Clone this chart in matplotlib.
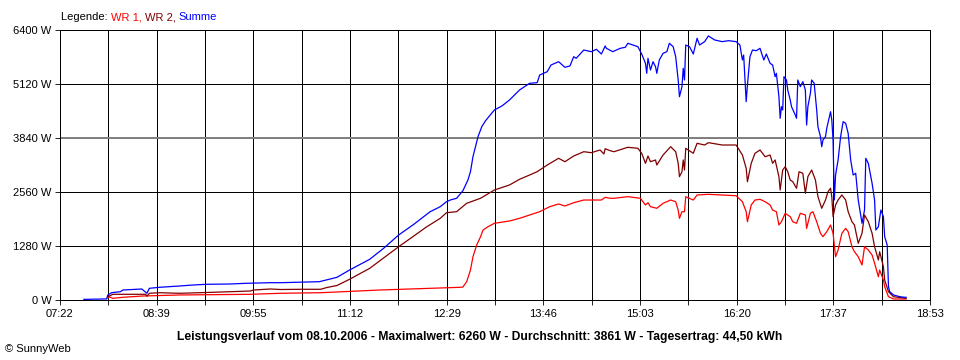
import numpy as np
import matplotlib
matplotlib.use('Agg')
from matplotlib import pyplot as plt

plt.rcParams['font.family'] = ['Liberation Sans', 'DejaVu Sans']

# --- data (time of day, watts) ---
summe_t = ["07:41", "07:50", "07:59", "08:00", "08:03", "08:10", "08:12", "08:22", "08:27", "08:31",
           "08:33", "08:41", "08:57", "09:08", "09:18", "09:37", "09:50", "10:09", "10:17", "10:48",
           "11:02", "11:12", "11:28", "11:39", "11:51", "12:03", "12:16", "12:24", "12:29", "12:32",
           "12:37", "12:42", "12:46", "12:48", "12:50", "12:54", "12:57", "13:00", "13:07", "13:13",
           "13:19", "13:27", "13:35", "13:41", "13:43", "13:49", "13:52", "13:58", "14:03", "14:07",
           "14:10", "14:12", "14:18", "14:24", "14:28", "14:32", "14:35", "14:36", "14:41", "14:47",
           "14:51", "14:53", "14:57", "15:01", "15:04", "15:07", "15:08", "15:09", "15:11", "15:13",
           "15:15", "15:16", "15:18", "15:21", "15:24", "15:26", "15:29", "15:31", "15:33", "15:34",
           "15:36", "15:37", "15:38", "15:39", "15:42", "15:45", "15:48", "15:50", "15:54", "15:57",
           "16:02", "16:08", "16:13", "16:19", "16:22", "16:24", "16:25", "16:27", "16:28", "16:30",
           "16:31", "16:32", "16:35", "16:38", "16:41", "16:43", "16:46", "16:48", "16:50", "16:51",
           "16:53", "16:54", "16:55", "16:56", "16:57", "16:59", "17:00", "17:02", "17:03", "17:06",
           "17:07", "17:08", "17:10", "17:12", "17:14", "17:15", "17:16", "17:18", "17:19", "17:21",
           "17:23", "17:24", "17:26", "17:27", "17:28", "17:30", "17:31", "17:34", "17:35", "17:36",
           "17:37", "17:38", "17:40", "17:42", "17:44", "17:46", "17:48", "17:50", "17:52", "17:54",
           "17:56", "17:59", "18:01", "18:02", "18:04", "18:07", "18:09", "18:10", "18:12", "18:14",
           "18:16", "18:17", "18:19", "18:20", "18:21", "18:24", "18:29", "18:33", "18:34"]
summe_w = [15, 20, 25, 120, 173, 197, 237, 254, 261, 159,
           277, 301, 332, 356, 372, 379, 396, 410, 410, 434,
           538, 711, 965, 1225, 1541, 1794, 2093, 2212, 2330, 2370,
           2411, 2590, 2844, 3041, 3397, 3871, 4108, 4250, 4504, 4599,
           4741, 4978, 5137, 5151, 5333, 5412, 5570, 5649, 5516, 5547,
           5767, 5729, 5926, 5886, 5943, 5831, 6021, 5966, 5886, 5966,
           5990, 6085, 6044, 6004, 5831, 5611, 5373, 5729, 5452, 5649,
           5531, 5373, 5689, 5848, 5886, 6085, 6004, 5767, 5215, 4819,
           5056, 5492, 5215, 6044, 6004, 5831, 6203, 6044, 6124, 6260,
           6163, 6124, 6147, 6124, 6044, 5689, 5807, 4701, 5096, 5767,
           5848, 5926, 5909, 5966, 5689, 5831, 5611, 5570, 5293, 5373,
           4819, 4307, 4582, 4504, 5293, 5215, 4978, 4741, 4582, 4385,
           4307, 5215, 5056, 5175, 4978, 4148, 4582, 4900, 5215, 5137,
           4504, 4108, 3871, 3634, 3793, 3871, 4070, 4463, 4267, 3793,
           2370, 2963, 3319, 3871, 4227, 4188, 3951, 3319, 2963, 3003,
           2370, 1818, 2133, 3359, 3240, 2766, 2370, 1659, 1738, 2133,
           1975, 1500, 1304, 315, 197, 119, 78, 64, 64]

wr2_t = ["08:00", "08:04", "08:12", "08:30", "08:31", "08:33", "08:41", "08:57", "09:24", "09:53",
         "09:56", "10:09", "10:17", "10:35", "10:49", "10:54", "11:02", "11:12", "11:28", "11:51",
         "12:03", "12:13", "12:24", "12:29", "12:37", "12:45", "12:56", "13:07", "13:19", "13:27",
         "13:35", "13:41", "13:49", "13:58", "14:03", "14:10", "14:18", "14:24", "14:31", "14:34",
         "14:35", "14:39", "14:42", "14:53", "15:01", "15:04", "15:07", "15:09", "15:11", "15:15",
         "15:16", "15:21", "15:27", "15:31", "15:33", "15:34", "15:36", "15:37", "15:38", "15:39",
         "15:45", "15:48", "15:54", "15:57", "16:08", "16:19", "16:24", "16:27", "16:28", "16:31",
         "16:34", "16:38", "16:42", "16:46", "16:48", "16:50", "16:53", "16:54", "16:56", "16:58",
         "17:00", "17:02", "17:04", "17:07", "17:09", "17:12", "17:14", "17:16", "17:19", "17:22",
         "17:24", "17:27", "17:30", "17:32", "17:34", "17:35", "17:36", "17:38", "17:40", "17:43",
         "17:46", "17:48", "17:51", "17:53", "17:56", "17:59", "18:01", "18:04", "18:07", "18:09",
         "18:12", "18:13", "18:16", "18:17", "18:20", "18:24", "18:34"]
wr2_w = [78, 135, 135, 135, 90, 159, 173, 159, 183, 213,
         237, 261, 249, 254, 254, 296, 344, 491, 751, 1263,
         1517, 1730, 1936, 2069, 2093, 2292, 2411, 2607, 2726, 2861,
         2963, 3041, 3200, 3359, 3278, 3413, 3515, 3492, 3556, 3461,
         3586, 3539, 3515, 3620, 3596, 3477, 3240, 3413, 3278, 3319,
         3200, 3437, 3634, 3515, 3240, 2923, 3041, 3319, 3081, 3596,
         3477, 3714, 3674, 3729, 3674, 3674, 3437, 3122, 2804, 3240,
         3477, 3556, 3397, 3437, 3240, 3319, 2923, 2607, 3081, 3160,
         3041, 2844, 2804, 2648, 3041, 3003, 2528, 2923, 3081, 2844,
         2449, 2174, 2370, 2567, 2648, 2449, 1975, 2252, 2370, 2489,
         2370, 2093, 1856, 1778, 1344, 1581, 2015, 1856, 1581, 1263,
         948, 1145, 789, 474, 197, 78, 40]

wr1_t = ["08:00", "08:01", "08:04", "08:12", "08:28", "08:57", "09:53", "10:17", "10:49", "11:02",
         "11:36", "12:16", "12:40", "12:42", "12:45", "12:48", "12:50", "12:53", "12:56", "12:58",
         "13:02", "13:07", "13:19", "13:27", "13:35", "13:43", "13:51", "13:58", "14:03", "14:10",
         "14:18", "14:24", "14:32", "14:35", "14:39", "14:42", "14:53", "15:03", "15:04", "15:07",
         "15:09", "15:11", "15:16", "15:21", "15:27", "15:31", "15:33", "15:34", "15:36", "15:38",
         "15:39", "15:45", "15:48", "15:57", "16:19", "16:24", "16:27", "16:28", "16:31", "16:34",
         "16:38", "16:42", "16:46", "16:48", "16:51", "16:53", "16:55", "16:58", "17:02", "17:04",
         "17:07", "17:10", "17:14", "17:15", "17:18", "17:20", "17:23", "17:26", "17:28", "17:31",
         "17:34", "17:36", "17:37", "17:38", "17:40", "17:43", "17:46", "17:48", "17:51", "17:53",
         "17:56", "17:59", "18:01", "18:04", "18:07", "18:09", "18:12", "18:13", "18:16", "18:17",
         "18:20", "18:24", "18:34"]
wr1_w = [47, 78, 40, 64, 95, 119, 135, 159, 173, 190,
         237, 277, 301, 308, 434, 711, 1026, 1304, 1500, 1659,
         1738, 1818, 1873, 1936, 2015, 2093, 2212, 2276, 2228, 2306,
         2370, 2370, 2370, 2434, 2411, 2411, 2449, 2411, 2370, 2252,
         2306, 2212, 2174, 2292, 2370, 2330, 2133, 1936, 2093, 2093,
         2449, 2370, 2489, 2505, 2472, 2330, 2093, 1856, 2252, 2370,
         2387, 2330, 2252, 2133, 2093, 1778, 1856, 2055, 1975, 1856,
         1818, 2055, 2015, 1699, 2055, 2093, 1856, 1581, 1501, 1620,
         1778, 1581, 1304, 1026, 1185, 1581, 1699, 1620, 1263, 1145,
         1026, 830, 1263, 1185, 1067, 870, 552, 711, 474, 315,
         78, 24, 24]

x_labels = ["07:22", "08:39", "09:55", "11:12", "12:29", "13:46", "15:03", "16:20", "17:37", "18:53"]
y_ticks = [0, 1280, 2560, 3840, 5120, 6400]

assert len(summe_t) == len(summe_w)
assert len(wr2_t) == len(wr2_w)
assert len(wr1_t) == len(wr1_w)


def to_min(s):
	h, m = s.split(':')
	return int(h) * 60 + int(m)


fig = plt.figure(figsize=(9.6, 3.6), dpi=100)
ax = fig.add_axes([60 / 960, 60 / 360, 870 / 960, 270 / 360])

t0, t1 = to_min(x_labels[0]), to_min(x_labels[-1])
grid_x = np.linspace(t0, t1, 2 * len(x_labels) - 1)
ax.set_xlim(t0, t1)
ax.set_ylim(y_ticks[0], y_ticks[-1])
ax.set_xticks(grid_x)
ax.set_xticklabels([x_labels[i // 2] if i % 2 == 0 else '' for i in range(len(grid_x))])
ax.set_yticks(y_ticks)
ax.set_yticklabels(['%d W' % v for v in y_ticks])

ax.grid(True, color='black', linewidth=0.6, antialiased=False, zorder=1)
ax.axhline(3840, color='#808080', linewidth=1.4, zorder=1.5)
ax.set_axisbelow(True)
ax.tick_params(length=3.8, width=0.6, color='black', labelsize=8, pad=2.5)
for sp in ax.spines.values():
	sp.set_linewidth(0.6)
	sp.set_color('black')
	sp.set_antialiased(False)

ax.plot([to_min(t) for t in wr1_t], wr1_w, color='#ff0000', linewidth=0.9, zorder=3)
ax.plot([to_min(t) for t in wr2_t], wr2_w, color='#800000', linewidth=0.9, zorder=3)
ax.plot([to_min(t) for t in summe_t], summe_w, color='#0000ff', linewidth=0.9, zorder=4)

# legend line at top, coloured pieces placed one after another
fig.canvas.draw()
renderer = fig.canvas.get_renderer()
xpos = 61 / 960
for txt, col in [("Legende: ", 'black'), ("WR 1, ", '#ff0000'), ("WR 2, ", '#800000'), ("Summe", '#0000ff')]:
	t = fig.text(xpos, 1 - 17 / 360, txt, color=col, fontsize=8, va='center', ha='left')
	bb = t.get_window_extent(renderer)
	xpos += bb.width / fig.bbox.width

fig.text(480 / 960, 1 - 337 / 360,
	"Leistungsverlauf vom 08.10.2006 - Maximalwert: 6260 W - Durchschnitt: 3861 W - Tagesertrag: 44,50 kWh",
	fontsize=8.7, fontweight='bold', ha='center', va='center')
fig.text(5 / 960, 1 - 349 / 360, "\u00a9 SunnyWeb", fontsize=8, ha='left', va='center')

fig.savefig('out.png', dpi=100)
